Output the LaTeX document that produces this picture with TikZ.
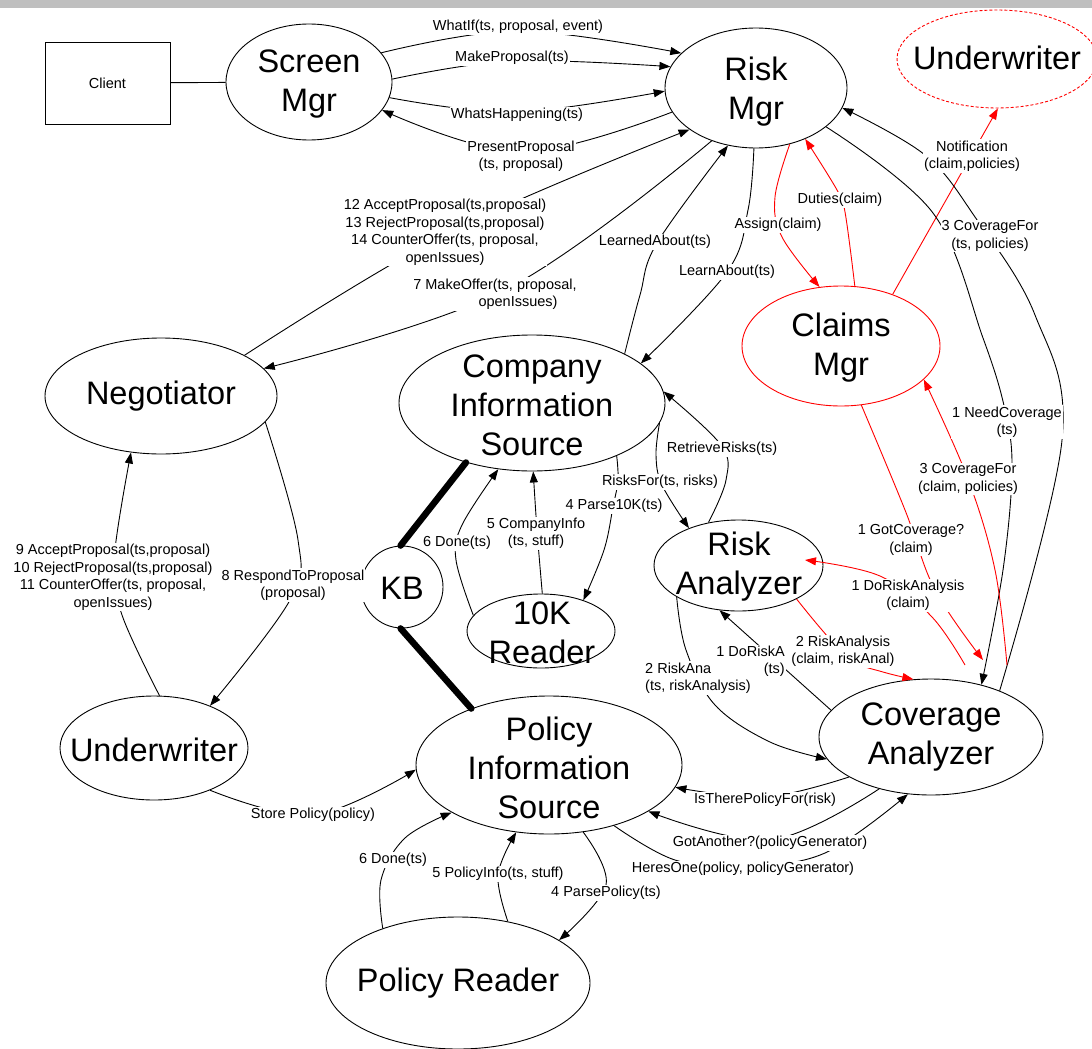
\documentclass[tikz,border=0pt]{standalone}
\usepackage{fontspec}
\setmainfont{Liberation Sans}
\usetikzlibrary{shapes.geometric, arrows.meta}
\newcommand\lblf{\fontsize{14.5pt}{17.5pt}\selectfont}
\newcommand\bigf{\fontsize{32.5pt}{39pt}\selectfont}
\tikzset{
  ell/.style={ellipse, draw, line width=0.9pt, inner sep=0pt},
  big/.style={font=\bigf, align=center, inner sep=0pt},
  lbl/.style={font=\lblf, align=center, fill=white, inner sep=1pt},
  conn/.style={line width=0.9pt},
  arr/.style={conn, -{Triangle[length=11pt, width=8pt]}},
  kblink/.style={line width=6.5pt, line cap=round},
  crv/.style={smooth, tension=0.6},
}
\begin{document}
\begin{tikzpicture}[x=1pt, y=-1pt]
\useasboundingbox (0,0) rectangle (1092,1049);
\fill[gray!50] (0,0) rectangle (1092,8);

% ---- shapes ----
\node[draw, line width=0.9pt, minimum width=125pt, minimum height=82pt, font=\lblf, inner sep=0pt] (cl) at (107.5,83) {Client};
\node[ell, minimum width=166pt, minimum height=116pt] (sm) at (309,82) {};
\node[ell, minimum width=182pt, minimum height=120pt] (rm) at (756,88) {};
\node[ell, draw=red, dash pattern=on 3pt off 2pt, minimum width=200pt, minimum height=98pt] (uwr) at (997,59) {};
\node[ell, draw=red, minimum width=198pt, minimum height=120pt] (cm) at (841,346) {};
\node[ell, minimum width=232pt, minimum height=116pt] (neg) at (161,396) {};
\node[ell, minimum width=266pt, minimum height=136pt] (cis) at (532,403) {};
\node[ell, circle, minimum size=82pt] (kb) at (402,587) {};
\node[ell, minimum width=148pt, minimum height=74pt] (tk) at (541,631) {};
\node[ell, minimum width=169pt, minimum height=91pt] (ra) at (738.5,565.5) {};
\node[ell, minimum width=224pt, minimum height=116pt] (ca) at (931,737) {};
\node[ell, minimum width=188pt, minimum height=104pt] (uw) at (154,748) {};
\node[ell, minimum width=266pt, minimum height=138pt] (pis) at (549,765) {};
\node[ell, minimum width=264pt, minimum height=132pt] (pr) at (458,983) {};

\node[big] (sm-t) at (309,84) {Screen\\Mgr};
\node[big] (rm-t) at (756,92) {Risk\\Mgr};
\node[big] (uwr-t) at (997,58) {Underwriter};
\node[big] (cm-t) at (841,348) {Claims\\Mgr};
\node[big] (neg-t) at (161,396) {Negotiator};
\node[big] (cis-t) at (532,405) {Company\\Information\\Source};
\node[big] (kb-t) at (402,588) {KB};
\node[big] (tk-t) at (542,633) {10K\\Reader};
\node[big] (ra-t) at (739,567) {Risk\\Analyzer};
\node[big] (ca-t) at (931,737) {Coverage\\Analyzer};
\node[big] (uw-t) at (154,750) {Underwriter};
\node[big] (pis-t) at (549,768) {Policy\\Information\\Source};
\node[big] (pr-t) at (458,983) {Policy Reader};

% free ends of the claim-handling connectors
\coordinate (caR) at (1007,665);
\coordinate (caG) at (983,660);
\coordinate (caD) at (965,665);
\coordinate (raD) at (805,560);

% ---- connectors ----
\draw[conn] (cl) -- (sm);

% Screen Mgr <-> Risk Mgr
\draw[arr] plot[crv] coordinates {(sm.22) (518,31) (rm.155)};
\draw[arr] plot[crv] coordinates {(sm.2) (512,61) (rm.166)};
\draw[arr] plot[crv] coordinates {(sm.-11) (515,112) (rm.182)};
\draw[arr] plot[crv] coordinates {(rm.196) (521,152) (sm.-21)};

% Negotiator <-> Risk Mgr
\draw[arr] plot[crv] coordinates {(neg.26) (450,232) (rm.212)};
\draw[arr] plot[crv] coordinates {(rm.230) (505,290) (neg.15)};

% Risk Mgr <-> Company Information Source
\draw[arr] plot[crv] coordinates {(cis.28) (640,295) (657,243) (rm.244)};
\draw[arr] plot[crv] coordinates {(rm.-92) (748,210) (727,272) (cis.20)};

% Claims Mgr
\draw[arr, red] plot[crv] coordinates {(rm.-59) (775,197) (782,237) (cm.110)};
\draw[arr, red] plot[crv] coordinates {(cm.77) (845,212) (837,190) (rm.-46)};
\draw[arr, red] (cm.45) -- (uwr.-89);

% Risk Mgr <-> Coverage Analyzer
\draw[arr] plot[crv] coordinates {(ca.34) (1062,440) (1035,315) (975,217) (925,155) (rm.-13)};
\draw[arr] plot[crv] coordinates {(rm.-29) (933,213) (983,338) (1005,410) (1012,470) (1003,570) (ca.46)};

% Claims Mgr <-> Coverage Analyzer / Risk Analyzer
\draw[arr, red] plot[crv] coordinates {(caR) (995,570) (968,479) (cm.-22)};
\draw[arr, red] plot[crv] coordinates {(cm.-71) (905,510) (935,590) (caG)};
\draw[arr, red] plot[crv] coordinates {(caD) (932,617) (880,576) (raD)};
\draw[arr, red] plot[crv] coordinates {(ra.-30) (822,630) (850,660) (883,672) (ca.107)};

% Company Information Source, Risk Analyzer, 10K Reader
\draw[arr] plot[crv] coordinates {(ra.125) (726,480) (721,445) (cis.5)};
\draw[arr] plot[crv] coordinates {(cis.-9) (656,455) (662,485) (ra.143)};
\draw[arr] plot[crv] coordinates {(cis.-32) (618,480) (613,507) (604,550) (tk.36)};
\draw[arr] plot[crv] coordinates {(tk.88) (537,530) (cis.-89)};
\draw[arr] plot[crv] coordinates {(tk.167) (456,560) (462,525) (cis.-117)};

% knowledge base links
\draw[kblink] (cis.222) -- (kb.92);
\draw[kblink] (kb.-92) -- (pis.144);

% Negotiator <-> Underwriter
\draw[arr] plot[crv] coordinates {(neg.-14) (298,540) (290,600) (uw.37)};
\draw[arr] plot[crv] coordinates {(uw.84) (122,615) (114,560) (neg.-118)};
\draw[arr] plot[crv] coordinates {(uw.-37) (313,815) (pis.182)};

% Policy Information Source <-> Policy Reader
\draw[arr] plot[crv] coordinates {(pr.144) (381,880) (405,838) (pis.-154)};
\draw[arr] plot[crv] coordinates {(pr.51) (498,875) (pis.-116)};
\draw[arr] plot[crv] coordinates {(pis.-63) (606,885) (pr.23)};

% Policy Information Source <-> Coverage Analyzer
\draw[arr] plot[crv] coordinates {(ca.-154) (765,797) (pis.-10)};
\draw[arr] plot[crv] coordinates {(ca.-135) (770,840) (pis.-25)};
\draw[arr] plot[crv] coordinates {(pis.-43) (675,860) (745,866) (825,853) (ca.-112)};

% Risk Analyzer <-> Coverage Analyzer
\draw[arr] plot[crv] coordinates {(ra.-153) (686,650) (715,705) (770,742) (ca.-168)};
\draw[arr] (ca.165) -- (ra.-113);

% ---- labels ----
\node[lbl] (l1) at (518,27) {WhatIf(ts, proposal, event)};
\node[lbl] (l2) at (512,58) {MakeProposal(ts)};
\node[lbl] (l3) at (517,115) {WhatsHappening(ts)};
\node[lbl] (l4) at (521,156) {PresentProposal\\(ts, proposal)};
\node[lbl] (l5) at (445,232) {12 AcceptProposal(ts,proposal)\\13 RejectProposal(ts,proposal)\\14 CounterOffer(ts, proposal,\\openIssues)};
\node[lbl] (l6) at (495,294) {7 MakeOffer(ts, proposal,\\\hspace*{46pt}openIssues)};
\node[lbl] (l7) at (655,242) {LearnedAbout(ts)};
\node[lbl] (l8) at (727,272) {LearnAbout(ts)};
\node[lbl] (l9) at (778,225) {Assign(claim)};
\node[lbl] (l10) at (840,200) {Duties(claim)};
\node[lbl] (l11) at (972,156) {Notification\\(claim,policies)};
\node[lbl] (l12) at (990,236) {3 CoverageFor\\(ts, policies)};
\node[lbl] (l13) at (1007,422) {1 NeedCoverage\\(ts)};
\node[lbl] (l14) at (968,479) {3 CoverageFor\\(claim, policies)};
\node[lbl] (l15) at (911,540) {1 GotCoverage?\\(claim)};
\node[lbl] (l16) at (908,595) {1 DoRiskAnalysis\\(claim)};
\node[lbl] (l17) at (843,651) {2 RiskAnalysis\\(claim, riskAnal)};
\node[lbl] (l18) at (722,449) {RetrieveRisks(ts)};
\node[lbl] (l19) at (660,482) {RisksFor(ts, risks)};
\node[lbl] (l20) at (614,506) {4 Parse10K(ts)};
\node[lbl] (l21) at (536,533) {5 CompanyInfo\\(ts, stuff)};
\node[lbl] (l22) at (457,543) {6 Done(ts)};
\node[lbl] (l23) at (293,585) {8 RespondToProposal\\(proposal)};
\node[lbl] (l24) at (113,577) {9 AcceptProposal(ts,proposal)\\10 RejectProposal(ts,proposal)\\11 CounterOffer(ts, proposal,\\openIssues)};
\node[lbl] (l25) at (313,815) {Store Policy(policy)};
\node[lbl] (l26) at (393,860) {6 Done(ts)};
\node[lbl] (l27) at (498,874) {5 PolicyInfo(ts, stuff)};
\node[lbl] (l28) at (606,893) {4 ParsePolicy(ts)};
\node[lbl] (l29) at (765,800) {IsTherePolicyFor(risk)};
\node[lbl] (l30) at (770,843) {GotAnother?(policyGenerator)};
\node[lbl] (l31) at (743,869) {HeresOne(policy, policyGenerator)};
\node[lbl, align=left, anchor=west] (l32) at (644,678) {2 RiskAna\\(ts, riskAnalysis)};
\node[lbl, align=right, anchor=east] (l33) at (786,661) {1 DoRiskA\\(ts)};
\end{tikzpicture}
\end{document}
